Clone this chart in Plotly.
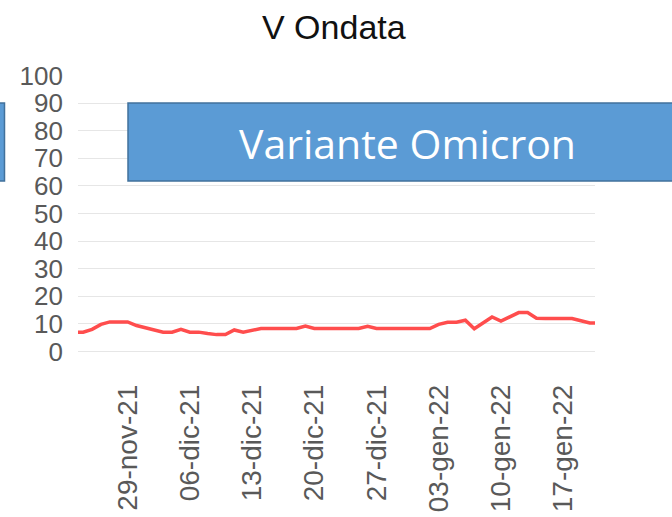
import plotly.graph_objects as go
import pandas as pd

title_text = "V Ondata"
box_text = "Variante Omicron"

start_date = "2021-11-23"
values = [7.0, 7.0, 8.0, 9.8, 10.7, 10.7, 10.7, 9.4, 8.5, 7.7,
          7.0, 7.0, 8.0, 7.0, 7.0, 6.5, 6.1, 6.1, 7.8, 7.0,
          7.5, 8.3, 8.3, 8.3, 8.3, 8.3, 9.2, 8.3, 8.3, 8.3,
          8.3, 8.3, 8.3, 9.1, 8.3, 8.3, 8.3, 8.3, 8.3, 8.3,
          8.3, 9.8, 10.6, 10.6, 11.3, 8.2, 10.5, 12.5, 11.0, 12.5,
          14.1, 14.1, 12.0, 11.9, 11.9, 11.9, 11.9, 11.1, 10.3, 10.3]
dates = pd.date_range(start_date, periods=len(values), freq="D")

tick_dates = ["2021-11-29", "2021-12-06", "2021-12-13", "2021-12-20",
              "2021-12-27", "2022-01-03", "2022-01-10", "2022-01-17"]
tick_labels = ["29-nov-21", "06-dic-21", "13-dic-21", "20-dic-21",
               "27-dic-21", "03-gen-22", "10-gen-22", "17-gen-22"]
y_ticks = [0, 10, 20, 30, 40, 50, 60, 70, 80, 90, 100]

W, H = 672, 517
L, R, T, B = 78, 595, 75, 352

fig = go.Figure()
fig.add_trace(go.Scatter(x=dates, y=values, mode="lines",
                         line=dict(color="#ff4d4d", width=3.5),
                         hoverinfo="skip", showlegend=False))

def px2paper_x(px):
    return (px - L) / (R - L)

def px2paper_y(py):
    return (B - py) / (B - T)

shapes = [
    dict(type="rect", xref="paper", yref="paper",
         x0=px2paper_x(-10), x1=px2paper_x(4.5),
         y0=px2paper_y(181), y1=px2paper_y(103),
         fillcolor="#5b9bd5", line=dict(color="#41719c", width=1.5)),
    dict(type="rect", xref="paper", yref="paper",
         x0=px2paper_x(128), x1=px2paper_x(690),
         y0=px2paper_y(181), y1=px2paper_y(103),
         fillcolor="#5b9bd5", line=dict(color="#41719c", width=1.5)),
]

annotations = [
    dict(text=box_text, xref="paper", yref="paper",
         x=px2paper_x(407.5), y=px2paper_y(143), showarrow=False,
         xanchor="center", yanchor="middle",
         font=dict(family="Open Sans", size=41, color="white")),
    dict(text=title_text, xref="paper", yref="paper",
         x=px2paper_x(334), y=px2paper_y(27), showarrow=False,
         xanchor="center", yanchor="middle",
         font=dict(family="Liberation Sans, Arial", size=34, color="#111111")),
]

fig.update_layout(
    width=W, height=H,
    margin=dict(l=L, r=W - R, t=T, b=H - B, pad=0, autoexpand=False),
    plot_bgcolor="white", paper_bgcolor="white",
    shapes=shapes, annotations=annotations,
    xaxis=dict(range=["2021-11-23 10:00", "2022-01-20 14:00"],
               tickvals=tick_dates, ticktext=tick_labels,
               tickangle=-90, showgrid=False, zeroline=False,
               showline=False, ticks="", ticklabelstandoff=26,
               automargin=False,
               tickfont=dict(family="Liberation Sans, Arial", size=28, color="#595959")),
    yaxis=dict(range=[-0.2, 100.2], tickvals=y_ticks,
               showgrid=True, gridcolor="#e6e6e6", gridwidth=1.2,
               zeroline=True, zerolinecolor="#e6e6e6", zerolinewidth=1.2,
               showline=False, ticks="", ticklabelstandoff=14,
               automargin=False,
               tickfont=dict(family="Liberation Sans, Arial", size=26, color="#595959")),
)

fig.write_html("out.html", config={"displayModeBar": False},
               post_script="document.body.style.margin='0';document.body.style.padding='0';document.body.style.overflow='hidden';")
